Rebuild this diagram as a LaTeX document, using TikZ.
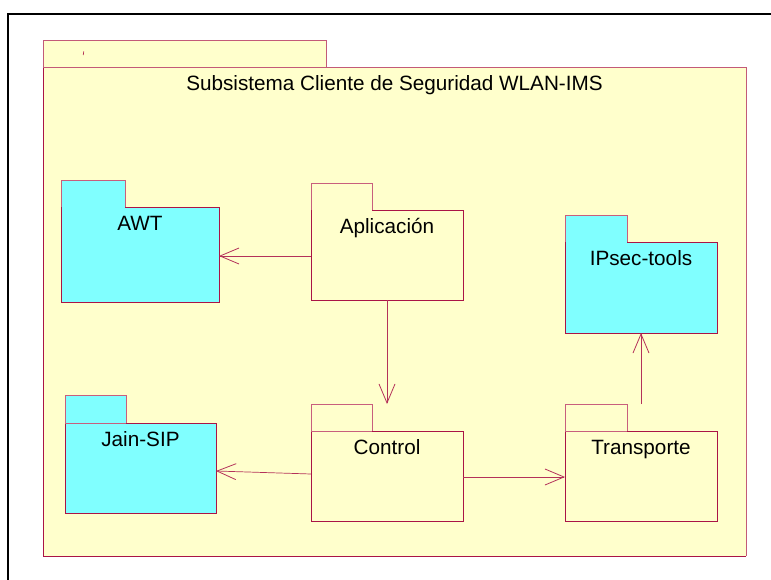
\documentclass[tikz,border=0pt]{standalone}
\usepackage{fontspec}
\setmainfont{Liberation Sans}
\usetikzlibrary{arrows.meta,fit}
\definecolor{pkgline}{RGB}{170,20,70}
\definecolor{tabline}{RGB}{200,95,125}
\definecolor{bigline}{RGB}{195,90,120}
\definecolor{pkgyellow}{RGB}{255,255,204}
\definecolor{pkgcyan}{RGB}{128,255,255}
\definecolor{depline}{RGB}{180,50,90}
% #1 name, #2 x1, #3 tab x2, #4 tab top, #5 body top, #6 x2, #7 bottom, #8 fill, #9 text
\newcommand\umlpkg[9]{%
  \fill[#8] (#2,#4) rectangle (#3,#5);
  \fill[#8] (#2,#5) rectangle (#6,#7);
  \draw[tabshape] (#2,#5) -- (#2,#4) -- (#3,#4) -- (#3,#5);
  \draw[pkgshape] (#3,#5) -- (#6,#5) -- (#6,#7) -- (#2,#7) -- (#2,#5);
  \node[bbox, fit={(#2,#4) (#6,#7)}] (#1) {};
  \node[lbl] (#1-t) at ({(#2+#6)/2},{#5+23.5}) {#9};
}
\newcommand\tabsep[3]{\draw[tabshape] (#1,#3) -- (#2,#3);}
\begin{document}
\begin{tikzpicture}[x=1pt,y=-1pt,
  pkgshape/.style={draw=pkgline, line width=0.9pt},
  tabshape/.style={draw=tabline, line width=0.9pt},
  bbox/.style={draw=none, inner sep=0pt, outer sep=0pt},
  lbl/.style={font=\fontsize{20.7}{24}\selectfont, inner sep=0pt, anchor=base},
  dep/.style={draw=depline, line width=0.7pt, -{Straight Barb[length=19pt,width=16pt,line width=0.8pt]}}
]
\useasboundingbox (0,0) rectangle (771,580);
\fill[white] (0,0) rectangle (771,580);
\draw[line width=1.7pt] (8,590) -- (8,14) -- (780,14);

% big package
\fill[pkgyellow] (43,41) rectangle (326,68);
\fill[pkgyellow] (43,68) rectangle (746,556);
\draw[draw=bigline, line width=1pt] (43,68) -- (43,41) -- (326,41) -- (326,68);
\draw[draw=bigline, line width=1pt] (43,68) -- (746,68) -- (746,556);
\draw[draw=pkgline, line width=1pt] (746,556) -- (43,556) -- (43,68);
\node[bbox, fit={(43,41) (746,556)}] (sub) {};
\node[lbl] (sub-t) at (394.5,90.5) {Subsistema Cliente de Seguridad WLAN-IMS};
\draw[pkgline, line width=0.6pt] (83.8,51.5) -- (83.2,55);

\umlpkg{awt}{61}{125}{180}{207}{219}{302}{pkgcyan}{AWT}
\umlpkg{apl}{311}{372}{183}{210}{463}{300}{pkgyellow}{Aplicación}
\umlpkg{jain}{65}{126}{395}{423}{216}{513}{pkgcyan}{Jain-SIP}
\tabsep{65}{126}{423}
\umlpkg{ctrl}{311}{372}{404}{431}{463}{521}{pkgyellow}{Control}
\tabsep{311}{372}{431}
\umlpkg{ipsec}{565}{627}{215}{242}{717}{333}{pkgcyan}{IPsec-tools}
\umlpkg{trans}{565}{627}{404}{431}{717}{521}{pkgyellow}{Transporte}
\tabsep{565}{627}{431}

% dependencies
\draw[dep] ([yshift=-14.5pt]apl.west) -- ([yshift=-14.5pt]apl.west -| awt.east);
\draw[dep] (apl.south) -- (apl.south |- ctrl.north);
\draw[dep] ([yshift=-11.5pt]ctrl.west) -- ([yshift=-17pt]jain.east);
\draw[dep] ([yshift=-14.5pt]ctrl.east) -- ([yshift=-14.5pt]ctrl.east -| trans.west);
\draw[dep] (trans.north) -- (ipsec.south);
\end{tikzpicture}
\end{document}
